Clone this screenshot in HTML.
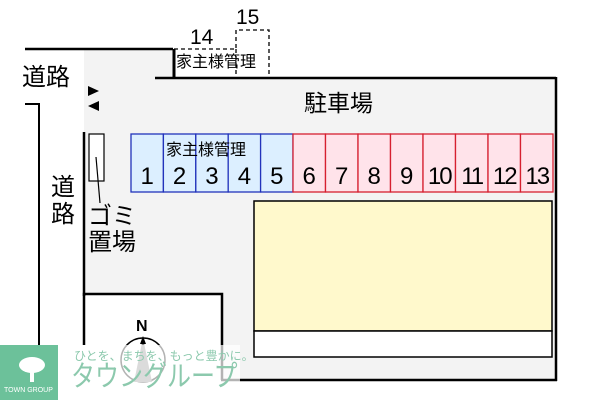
<!DOCTYPE html>
<html><head><meta charset="utf-8"><style>
body{margin:0;width:600px;height:400px;background:#fff;overflow:hidden;position:relative;font-family:"Liberation Sans","Noto Sans CJK JP",sans-serif}
.t{position:absolute;color:#000;white-space:nowrap;line-height:1}
</style></head><body>
<svg width="600" height="400" style="position:absolute;left:0;top:0">
<polygon points="84,49 173,49 173,78 556,78 556,380 222,380 222,294 84,294" fill="#f3f3f3"/>
<line x1="25" y1="49" x2="173" y2="49" stroke="#000" stroke-width="2.5"/>
<line x1="174" y1="49" x2="174" y2="78" stroke="#000" stroke-width="3"/>
<line x1="155" y1="78" x2="556" y2="78" stroke="#000" stroke-width="2.5"/>
<line x1="556" y1="77" x2="556" y2="381" stroke="#000" stroke-width="2.5"/>
<line x1="221" y1="380" x2="557" y2="380" stroke="#000" stroke-width="2.5"/>
<polyline points="84,345 84,294 222,294 222,380" fill="#fff" stroke="#000" stroke-width="2.5"/>
<line x1="84" y1="132" x2="84" y2="296" stroke="#000" stroke-width="2.5"/>
<polyline points="25,104 39,104 39,345" fill="none" stroke="#000" stroke-width="2"/>
<polyline points="174,49 236,49 236,30 269,30 269,75" fill="none" stroke="#000" stroke-width="1.3" stroke-dasharray="4,3"/>
<line x1="236" y1="49" x2="236" y2="75" stroke="#000" stroke-width="1.3" stroke-dasharray="4,3"/>
<polygon points="88,86 99,91 88,96" fill="#000"/>
<polygon points="99,101 88,106 99,111" fill="#000"/>
<rect x="89" y="134" width="15" height="47" fill="#fff" stroke="#000" stroke-width="1.2"/>
<line x1="96" y1="157" x2="100" y2="203" stroke="#000" stroke-width="1.2"/>
<g fill="#dcefff" stroke="#2233bb" stroke-width="1.3">
<rect x="131" y="134" width="32.4" height="58"/><rect x="163.4" y="134" width="32.4" height="58"/><rect x="195.8" y="134" width="32.4" height="58"/><rect x="228.2" y="134" width="32.4" height="58"/><rect x="260.6" y="134" width="32.4" height="58"/>
</g>
<g fill="#ffe3ea" stroke="#d62030" stroke-width="1.3">
<rect x="293" y="134" width="32.5" height="58"/><rect x="325.5" y="134" width="32.5" height="58"/><rect x="358" y="134" width="32.5" height="58"/><rect x="390.5" y="134" width="32.5" height="58"/><rect x="423" y="134" width="32.5" height="58"/><rect x="455.5" y="134" width="32.5" height="58"/><rect x="488" y="134" width="32.5" height="58"/><rect x="520.5" y="134" width="32.5" height="58"/>
</g>
<rect x="254" y="201" width="298" height="130" fill="#fff9cc" stroke="#000" stroke-width="1.5"/>
<rect x="254" y="331" width="298" height="26" fill="#fff" stroke="#000" stroke-width="1.5"/>
<circle cx="143" cy="360" r="22" fill="none" stroke="#000" stroke-width="1.5"/>
<polygon points="143,338 134,382 152,382" fill="#888"/>
<polygon points="143,336 140,344 146,344" fill="#000"/>
<rect x="0" y="345" width="58" height="55" fill="#6cc19a"/>
<rect x="58" y="345" width="182" height="55" fill="#fff" opacity="0.7"/>
<ellipse cx="32" cy="365" rx="13" ry="8" fill="#fff"/>
<rect x="30" y="365" width="4" height="17" fill="#fff"/>
</svg>
<div class="t" style="left:190px;top:27px;font-size:21px">14</div>
<div class="t" style="left:236px;top:7px;font-size:21px">15</div>
<div class="t" style="left:176px;top:55px;font-size:16px">家主様管理</div>
<div class="t" style="left:22px;top:66px;font-size:24px">道路</div>
<div class="t" style="left:51px;top:174px;font-size:24px;width:24px;white-space:normal;line-height:27px">道路</div>
<div class="t" style="left:88px;top:204px;font-size:24px;line-height:26px">ゴミ<br>置場</div>
<div class="t" style="left:304px;top:92px;font-size:23px">駐車場</div>
<div class="t" style="left:166px;top:143px;font-size:16px">家主様管理</div>
<div class="t" style="left:131px;top:165px;font-size:24px;display:flex">
<span style="width:32.4px;text-align:center">1</span><span style="width:32.4px;text-align:center">2</span><span style="width:32.4px;text-align:center">3</span><span style="width:32.4px;text-align:center">4</span><span style="width:32.4px;text-align:center">5</span><span style="width:32.5px;text-align:center">6</span><span style="width:32.5px;text-align:center">7</span><span style="width:32.5px;text-align:center">8</span><span style="width:32.5px;text-align:center">9</span><span style="width:32.5px;text-align:center;letter-spacing:-2px">10</span><span style="width:32.5px;text-align:center;letter-spacing:-2px">11</span><span style="width:32.5px;text-align:center;letter-spacing:-2px">12</span><span style="width:32.5px;text-align:center;letter-spacing:-2px">13</span></div>
<div class="t" style="left:136px;top:319px;font-size:16px;font-weight:bold">N</div>
<div class="t" style="left:4px;top:387px;font-size:7px;color:#fff">TOWN GROUP</div>
<div class="t" style="left:74px;top:350px;font-size:12px;color:#8cc9ad">ひとを、まちを、もっと豊かに。</div>
<div class="t" style="left:71px;top:363px;font-size:24px;color:#8cc9ad;transform:scaleY(1.2);transform-origin:0 0">タウングループ</div>
</body></html>
